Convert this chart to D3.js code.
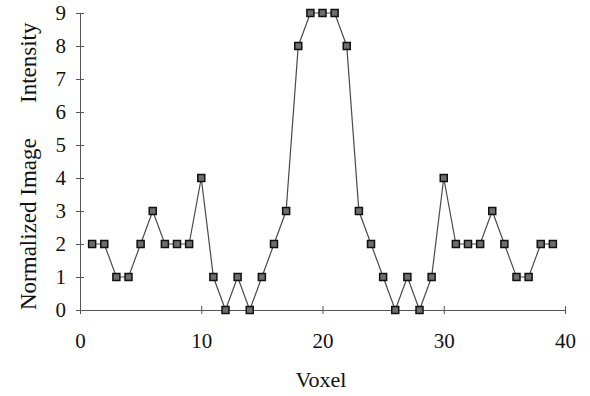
<!DOCTYPE html>
<html>
<head>
<meta charset="utf-8">
<script src="https://cdn.jsdelivr.net/npm/d3@7"></script>
<style>
  body { margin: 0; background: #fff; }
  text { font-family: "Liberation Serif", "DejaVu Serif", serif; fill: #111; }
</style>
</head>
<body>
<div id="chart"></div>
<script>
// voxel index and normalized intensity
const voxels = [1, 2, 3, 4, 5, 6, 7, 8, 9, 10, 11, 12, 13, 14, 15, 16, 17, 18, 19, 20,
                21, 22, 23, 24, 25, 26, 27, 28, 29, 30, 31, 32, 33, 34, 35, 36, 37, 38, 39];
const intensity = [2, 2, 1, 1, 2, 3, 2, 2, 2, 4, 1, 0, 1, 0, 1, 2, 3, 8, 9, 9,
                   9, 8, 3, 2, 1, 0, 1, 0, 1, 4, 2, 2, 2, 3, 2, 1, 1, 2, 2];
const xTicks = [0, 10, 20, 30, 40];
const yTicks = [0, 1, 2, 3, 4, 5, 6, 7, 8, 9];

const width = 590;
const height = 396;
const serif = '"Liberation Serif", "Times New Roman", serif';

const x = d3.scaleLinear().domain([0, 40]).range([80, 565]);
const y = d3.scaleLinear().domain([0, 9]).range([310, 13]);

const svg = d3.select("#chart").append("svg")
    .attr("width", width)
    .attr("height", height);

// x axis: crossing ticks, labels below
svg.append("g")
    .attr("transform", `translate(0,${y(0)})`)
    .call(d3.axisBottom(x).tickValues(xTicks).tickSize(4).tickPadding(19))
    .attr("font-family", serif)
    .attr("font-size", 21)
    .call(g => g.select(".domain").attr("stroke", "#555"))
    .call(g => g.selectAll(".tick line").attr("stroke", "#555").attr("y1", -4))
    .call(g => g.selectAll(".tick text").attr("fill", "#111"));

// y axis
svg.append("g")
    .attr("transform", `translate(${x(0)},0)`)
    .call(d3.axisLeft(y).tickValues(yTicks).tickSize(4).tickPadding(10))
    .attr("font-family", serif)
    .attr("font-size", 21)
    .call(g => g.select(".domain").attr("stroke", "#555"))
    .call(g => g.selectAll(".tick line").attr("stroke", "#555").attr("x1", 4))
    .call(g => g.selectAll(".tick text").attr("fill", "#111"));

// axis titles
svg.append("text")
    .attr("x", 321)
    .attr("y", 387)
    .attr("text-anchor", "middle")
    .style("font-size", "22px")
    .text("Voxel");

const ylab = svg.append("g").attr("transform", "translate(36,0) rotate(-90)");
ylab.append("text")
    .attr("x", -310)
    .attr("text-anchor", "start")
    .style("font-size", "23px")
    .text("Normalized Image");
ylab.append("text")
    .attr("x", -103)
    .attr("text-anchor", "start")
    .style("font-size", "23px")
    .text("Intensity");

const data = voxels.map((v, i) => ({v, val: intensity[i]}));

svg.append("path")
    .datum(data)
    .attr("fill", "none")
    .attr("stroke", "#4a4a4a")
    .attr("stroke-width", 1.2)
    .attr("d", d3.line().x(d => x(d.v)).y(d => y(d.val)));

svg.append("g")
  .selectAll("rect")
  .data(data)
  .join("rect")
    .attr("x", d => x(d.v) - 3.5)
    .attr("y", d => y(d.val) - 3.5)
    .attr("width", 7)
    .attr("height", 7)
    .attr("fill", "#6e6e6e")
    .attr("stroke", "#111")
    .attr("stroke-width", 1.5);
</script>
</body>
</html>
